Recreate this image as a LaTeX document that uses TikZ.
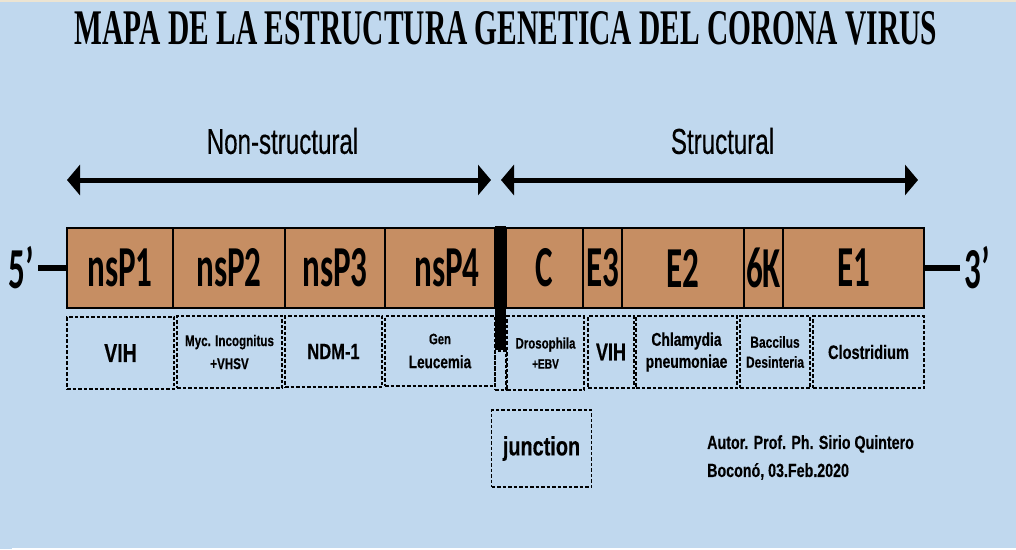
\documentclass[tikz,border=0pt]{standalone}
\usepackage{fontspec}
\usepackage{graphicx}
\usetikzlibrary{arrows.meta}
\setmainfont{Liberation Sans}
\newfontfamily\titlefont{Liberation Serif}
\newfontfamily\genefont[FakeStretch=0.57]{Carlito}
\newfontfamily\narrowfont[FakeStretch=0.75,FakeBold=0.4]{Liberation Sans}
\newfontfamily\headfont[FakeStretch=0.67,FakeBold=0.3]{Liberation Sans}
\definecolor{bg}{RGB}{192,216,238}
\definecolor{tanfill}{RGB}{198,142,99}
\definecolor{ruler}{RGB}{236,228,210}
\newcommand\fs[2]{\fontsize{#1}{#2}\selectfont}
\begin{document}
\begin{tikzpicture}[x=1pt,y=-1pt,
  gene/.style={draw=black, line width=1.6pt, fill=tanfill, minimum height=80pt, inner sep=0pt,
    font=\genefont\bfseries\fs{58}{58}},
  endlabel/.style={inner sep=0pt, font=\genefont\bfseries\fs{58}{58}},
  dbox/.style={draw=black, line width=1.1pt, dash pattern=on 3.5pt off 2pt, minimum height=72pt,
    inner sep=0pt, align=center, font=\narrowfont\bfseries},
  endline/.style={line width=6pt},
  dblarrow/.style={line width=5pt, {Triangle[length=13pt,width=30pt]}-{Triangle[length=13pt,width=30pt]}},
  head/.style={inner sep=0pt, font=\headfont\fs{36}{40}},
  note/.style={inner sep=0pt, align=left, font=\narrowfont\bfseries\fs{19}{28}}
]
\useasboundingbox (0,0) rectangle (1016,549);
\fill[bg] (0,0) rectangle (1016,549);
\fill[ruler] (0,0) rectangle (1016,2);
\fill[white] (12,547.5) rectangle (1016,549);

% title
\node[inner sep=0pt] (title) at (506,28)
  {\resizebox{862pt}{33pt}{\titlefont\bfseries MAPA DE LA ESTRUCTURA GENETICA DEL CORONA VIRUS}};

% region arrows
\coordinate (nsA) at (67,180);
\coordinate (nsB) at (491,180);
\coordinate (stA) at (501,180);
\coordinate (stB) at (918,180);
\draw[dblarrow] (nsA) -- (nsB);
\draw[dblarrow] (stA) -- (stB);
\node[head] (nonstruct) at (282.5,141) {Non-structural};
\node[head] (struct) at (722.5,141) {Structural};

% genome boxes
\node[gene, minimum width=106pt] (p1) at (120,268) {nsP1};
\node[gene, minimum width=112pt] (p2) at (229,268) {nsP2};
\node[gene, minimum width=100pt] (p3) at (335,268) {nsP3};
\node[gene, minimum width=110pt] (p4) at (440,268) {\hspace{14pt}nsP4};
\node[gene, minimum width=77pt] (c) at (544.5,268) {C};
\node[gene, minimum width=39pt] (e3) at (602.5,268) {E3};
\node[gene, minimum width=122pt] (e2) at (683,268) {E2};
\node[gene, minimum width=39pt] (k6) at (763.5,268) {6K};
\node[gene, minimum width=141pt] (e1) at (853.5,268) {E1};
\node[fill=black, minimum width=11pt, minimum height=124pt, inner sep=0pt] (bar) at (500.5,288) {};

% ends
\node[endlabel] (five) at (21.5,268) {5’};
\node[endlabel] (three) at (977.5,268) {3’};
\draw[endline] ([xshift=4pt]five.east) -- (p1.west);
\draw[endline] (e1.east) -- ([xshift=-5pt]three.west);

% dashed annotation boxes
\node[dbox, minimum width=107pt, font=\narrowfont\bfseries\fs{26}{28}] (d1) at (120.5,353) {VIH};
\node[dbox, minimum width=105pt, font=\narrowfont\bfseries\fs{15.5}{23}] (d2) at (229.5,352) {Myc. Incognitus\\+VHSV};
\node[dbox, minimum width=97pt, minimum height=71pt, font=\narrowfont\bfseries\fs{22}{24}] (d3) at (333.5,351.5) {NDM-1};
\node[dbox, minimum width=110pt, minimum height=70pt, font=\narrowfont\bfseries\fs{18}{24}] (d4) at (440,351) {{\fs{15}{24}Gen}\\Leucemia};
\node[dbox, minimum width=11pt, minimum height=39pt] (dj) at (500.5,370.5) {};
\node[dbox, minimum width=77pt, minimum height=74pt, font=\narrowfont\bfseries\fs{15.3}{20}] (d5) at (545.5,353) {Drosophila\\{\fs{13.5}{20}+EBV}};
\node[dbox, minimum width=46pt, font=\narrowfont\bfseries\fs{24}{26}] (d6) at (611,352) {VIH};
\node[dbox, minimum width=101pt, font=\narrowfont\bfseries\fs{18.5}{22}] (d7) at (686.5,352) {Chlamydia\\pneumoniae};
\node[dbox, minimum width=70pt, font=\narrowfont\bfseries\fs{16}{20}] (d8) at (775,352) {Baccilus\\Desinteria};
\node[dbox, minimum width=111pt, font=\narrowfont\bfseries\fs{19.4}{22}] (d9) at (868.5,352) {Clostridium};

% junction label
\node[dbox, minimum width=100pt, minimum height=77pt, font=\narrowfont\bfseries\fs{26.5}{28}] (junc) at (541.5,448.5) {junction};

% author
\node[note, anchor=north west] (author) at (707,435) {Autor. Prof. Ph. Sirio Quintero\\Boconó, 03.Feb.2020};
\end{tikzpicture}
\end{document}
